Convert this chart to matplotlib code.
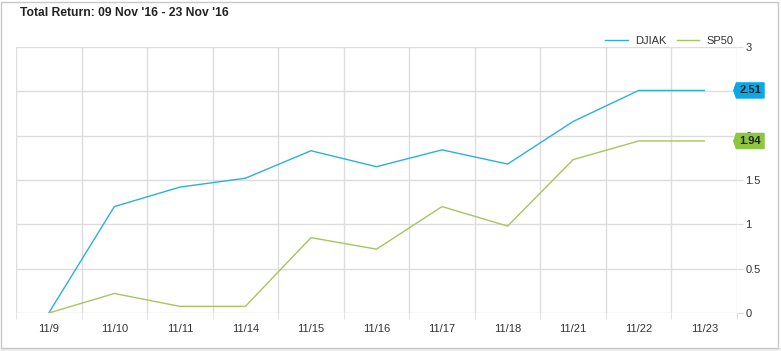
import matplotlib.pyplot as plt
from matplotlib.patches import Polygon, Rectangle

plt.rcParams['font.family'] = ['Liberation Sans', 'DejaVu Sans']

dates = ["11/9", "11/10", "11/11", "11/14", "11/15", "11/16",
         "11/17", "11/18", "11/21", "11/22", "11/23"]
djiak = [0, 1.20, 1.42, 1.52, 1.83, 1.65, 1.84, 1.68, 2.16, 2.51, 2.51]
sp50 = [0, 0.22, 0.075, 0.075, 0.85, 0.72, 1.20, 0.98, 1.73, 1.94, 1.94]
yticks = [0, 0.5, 1, 1.5, 2, 2.5, 3]

c_dj = "#2bb0dc"
c_sp = "#a8c55c"
badge_dj = "#0aa8e6"
badge_sp = "#8dc63f"

fig = plt.figure(figsize=(7.81, 3.51), dpi=100)
fig.patch.set_facecolor("white")
# grey strip under the card and thin card border
fig.patches.append(Rectangle((0, 0), 1, 3 / 351, transform=fig.transFigure,
                             facecolor="#eeeeee", edgecolor="none"))
fig.patches.append(Rectangle((1 / 781, 1 - 348 / 351), 777 / 781, 346 / 351,
                             transform=fig.transFigure, fill=False,
                             edgecolor="#c8c8c8", lw=1))

ax = fig.add_axes([16 / 781, 1 - 313 / 351, 721 / 781, 266 / 351])
ax.set_zorder(2)
ax.set_facecolor("none")
x = list(range(len(dates)))
ax.plot(x, djiak, color=c_dj, lw=1, label="DJIAK", zorder=3)
ax.plot(x, sp50, color=c_sp, lw=1, label="SP50", zorder=3)

ax.set_xlim(-0.5, len(dates) - 0.5)
ax.set_ylim(0, 3)
ax.set_xticks(x)
ax.set_xticklabels(dates)
ax.set_xticks([i - 0.5 for i in range(len(dates) + 1)], minor=True)
ax.set_yticks(yticks)
ax.set_yticklabels(["0", "0.5", "1", "1.5", "2", "2.5", "3"])
ax.yaxis.tick_right()

ax.grid(True, which="minor", axis="x", color="#dddddd", lw=1)
ax.grid(True, which="major", axis="y", color="#dddddd", lw=1)
ax.tick_params(axis="x", which="major", length=0, pad=8, labelsize=8,
               labelcolor="#333333")
ax.tick_params(axis="x", which="minor", length=4, color="#dddddd")
ax.tick_params(axis="y", length=4, color="#dddddd", pad=2, labelsize=8,
               labelcolor="#333333")
for s in ax.spines.values():
    s.set_visible(False)

ax.set_title("Total Return: 09 Nov '16 - 23 Nov '16", loc="left",
             fontsize=8.7, fontweight="bold", color="#222222",
             x=4 / 721, y=1 + 22.5 / 266)

leg = ax.legend(loc="center right", bbox_to_anchor=(0.9955, 1 + 6 / 266),
                ncol=2, frameon=False, fontsize=8, handlelength=2.0,
                columnspacing=0.9, handletextpad=0.7, borderpad=0,
                borderaxespad=0)
for t in leg.get_texts():
    t.set_color("#333333")

# value badges on the right axis (they cover the 2 and 2.5 labels, as in the original)
trans = ax.get_yaxis_transform()
h = 0.085
for val, col in [(djiak[-1], badge_dj), (sp50[-1], badge_sp)]:
    x0, x1, xp = 0.9992, 1.0375, 0.9955
    poly = Polygon([(xp, val), (x0, val + h), (x1, val + h),
                    (x1, val - h), (x0, val - h)],
                   closed=True, transform=trans, facecolor=col,
                   edgecolor=col, clip_on=False, zorder=5)
    ax.add_patch(poly)
    ax.text((x0 + x1) / 2, val, f"{val:.2f}", transform=trans,
            ha="center", va="center", fontsize=8, fontweight="bold",
            color="#222222", zorder=6, clip_on=False)

fig.savefig("out.png", dpi=100, facecolor=fig.get_facecolor())
